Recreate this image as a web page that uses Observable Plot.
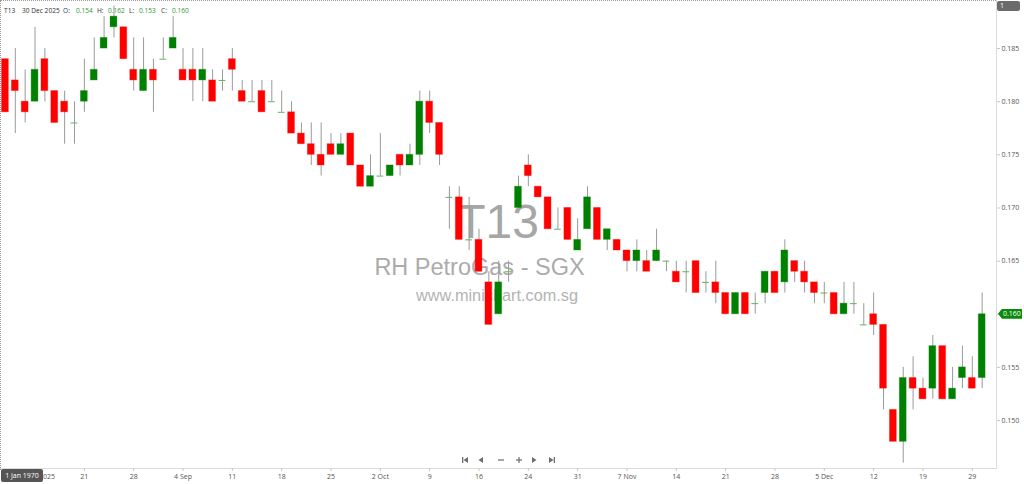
<!DOCTYPE html>
<html><head><meta charset="utf-8">
<script src="https://cdn.jsdelivr.net/npm/d3@7"></script>
<script src="https://cdn.jsdelivr.net/npm/@observablehq/plot@0.6"></script>
<style>
body{margin:0;background:#fff;font-family:"Open Sans",sans-serif;}
#wrap{position:relative;width:1024px;height:484px;overflow:hidden;background:#fff;}
#wrap svg.chart{position:absolute;left:0;top:0;z-index:1;background:transparent;}
.ov{position:absolute;font-size:7px;line-height:9px;white-space:nowrap;}
.hd{font-size:6.6px;}
</style></head><body><div id="wrap"></div>
<script>
const symbol = "T13";
const dates = [
"2025-08-11","2025-08-12","2025-08-13","2025-08-14","2025-08-15",
"2025-08-18","2025-08-19","2025-08-20","2025-08-21","2025-08-22",
"2025-08-25","2025-08-26","2025-08-27","2025-08-28","2025-08-29",
"2025-09-01","2025-09-02","2025-09-03","2025-09-04","2025-09-05",
"2025-09-08","2025-09-09","2025-09-10","2025-09-11","2025-09-12",
"2025-09-15","2025-09-16","2025-09-17","2025-09-18","2025-09-19",
"2025-09-22","2025-09-23","2025-09-24","2025-09-25","2025-09-26",
"2025-09-29","2025-09-30","2025-10-01","2025-10-02","2025-10-03",
"2025-10-06","2025-10-07","2025-10-08","2025-10-09","2025-10-10",
"2025-10-13","2025-10-14","2025-10-15","2025-10-16","2025-10-17",
"2025-10-21","2025-10-22","2025-10-23","2025-10-24",
"2025-10-27","2025-10-28","2025-10-29","2025-10-30","2025-10-31",
"2025-11-03","2025-11-04","2025-11-05","2025-11-06","2025-11-07",
"2025-11-10","2025-11-11","2025-11-12","2025-11-13","2025-11-14",
"2025-11-17","2025-11-18","2025-11-19","2025-11-20","2025-11-21",
"2025-11-24","2025-11-25","2025-11-26","2025-11-27","2025-11-28",
"2025-12-01","2025-12-02","2025-12-03","2025-12-04","2025-12-05",
"2025-12-08","2025-12-09","2025-12-10","2025-12-11","2025-12-12",
"2025-12-15","2025-12-16","2025-12-17","2025-12-18","2025-12-19",
"2025-12-22","2025-12-23","2025-12-24","2025-12-26",
"2025-12-29","2025-12-30"];
const open = [
0.184,0.182,0.180,0.180,0.184, 0.181,0.180,0.178,0.180,0.182,
0.185,0.187,0.187,0.183,0.181, 0.183,0.184,0.185,0.183,0.183,
0.182,0.182,0.182,0.184,0.181, 0.180,0.181,0.180,0.179,0.179,
0.177,0.176,0.175,0.176,0.175, 0.177,0.174,0.172,0.173,0.173,
0.175,0.174,0.175,0.180,0.178, 0.171,0.171,0.167,0.167,0.163,
0.160,0.164,0.170,0.174, 0.172,0.171,0.168,0.170,0.166,
0.168,0.170,0.167,0.167,0.166, 0.165,0.165,0.165,0.165,0.164,
0.164,0.165,0.163,0.163,0.162, 0.160,0.162,0.161,0.162,0.164,
0.163,0.165,0.164,0.163,0.162, 0.162,0.160,0.161,0.159,0.160,
0.159,0.151,0.148,0.154,0.153, 0.153,0.157,0.152,0.154, 0.154,0.154];
const high = [
0.184,0.185,0.183,0.187,0.185, 0.181,0.181,0.180,0.184,0.186,
0.188,0.189,0.187,0.186,0.186, 0.184,0.186,0.188,0.185,0.185,
0.185,0.183,0.183,0.185,0.182, 0.182,0.182,0.182,0.181,0.180,
0.178,0.178,0.178,0.177,0.177, 0.177,0.174,0.175,0.177,0.174,
0.175,0.176,0.181,0.181,0.178, 0.172,0.172,0.171,0.168,0.164,
0.165,0.165,0.173,0.175, 0.172,0.171,0.170,0.170,0.169,
0.172,0.170,0.168,0.167,0.166, 0.167,0.166,0.168,0.165,0.165,
0.165,0.165,0.164,0.165,0.162, 0.162,0.162,0.162,0.164,0.164,
0.167,0.165,0.165,0.163,0.163, 0.162,0.163,0.163,0.161,0.162,
0.159,0.151,0.155,0.156,0.154, 0.158,0.157,0.155,0.157, 0.156,0.162];
const low = [
0.179,0.177,0.178,0.180,0.180, 0.178,0.176,0.176,0.179,0.182,
0.185,0.186,0.184,0.181,0.181, 0.179,0.184,0.185,0.182,0.180,
0.180,0.180,0.181,0.181,0.180, 0.180,0.179,0.180,0.179,0.177,
0.176,0.174,0.173,0.175,0.175, 0.174,0.172,0.172,0.173,0.173,
0.173,0.174,0.174,0.177,0.174, 0.168,0.167,0.166,0.164,0.159,
0.160,0.163,0.170,0.172, 0.171,0.168,0.168,0.167,0.166,
0.168,0.167,0.166,0.166,0.164, 0.164,0.164,0.165,0.164,0.163,
0.162,0.162,0.162,0.161,0.160, 0.160,0.160,0.160,0.161,0.162,
0.162,0.163,0.162,0.161,0.161, 0.160,0.160,0.160,0.159,0.158,
0.151,0.148,0.146,0.151,0.152, 0.152,0.152,0.152,0.153, 0.153,0.153];
const close = [
0.179,0.181,0.179,0.183,0.181, 0.178,0.179,0.178,0.181,0.183,
0.186,0.188,0.184,0.182,0.183, 0.182,0.184,0.186,0.182,0.182,
0.183,0.180,0.182,0.183,0.180, 0.180,0.179,0.180,0.179,0.177,
0.176,0.175,0.174,0.175,0.176, 0.174,0.172,0.173,0.173,0.174,
0.174,0.175,0.180,0.178,0.175, 0.171,0.167,0.167,0.164,0.159,
0.163,0.164,0.172,0.173, 0.171,0.168,0.168,0.167,0.167,
0.171,0.167,0.168,0.166,0.165, 0.166,0.164,0.166,0.165,0.163,
0.164,0.162,0.163,0.162,0.160, 0.162,0.160,0.161,0.164,0.162,
0.166,0.164,0.163,0.162,0.162, 0.160,0.161,0.161,0.159,0.159,
0.153,0.148,0.154,0.153,0.152, 0.157,0.152,0.153,0.155, 0.153,0.160];
const tickDates = ["2025-08-14","2025-08-21","2025-08-28","2025-09-04","2025-09-11","2025-09-18","2025-09-25","2025-10-02","2025-10-09","2025-10-16","2025-10-24","2025-10-31","2025-11-07","2025-11-14","2025-11-21","2025-11-28","2025-12-05","2025-12-12","2025-12-19","2025-12-29"];
const tickLabels = ["14 Aug 2025","21","28","4 Sep","11","18","25","2 Oct","9","16","24","31","7 Nov","14","21","28","5 Dec","12","19","29"];
const yTicks = [0.150,0.155,0.160,0.165,0.170,0.175,0.180,0.185];
const watermark = ["T13","RH PetroGas - SGX","www.minichart.com.sg"];

const data = dates.map((d,i)=>({date:d,o:open[i],h:high[i],l:low[i],c:close[i]}));
const bodies = data.filter(d=>d.o!==d.c);
const dojis = data.filter(d=>d.o===d.c);
const labelMap = new Map(tickDates.map((d,i)=>[d,tickLabels[i]]));
const GREEN="#008000", RED="#ff0000";

const plot = Plot.plot({
  width:1024, height:484,
  marginLeft:0, marginRight:28, marginTop:0, marginBottom:16,
  style:{background:"transparent", fontFamily:"Open Sans", fontSize:"7px", color:"#555", overflow:"visible"},
  x:{type:"band", domain:dates, range:[0,986.6], paddingInner:0.31, paddingOuter:0.155},
  y:{domain:[0.14549,0.18952]},
  color:{type:"identity"},
  marks:[
    Plot.text([watermark[0]],{text:d=>d, frameAnchor:"top-left", dx:497, dy:203.6, textAnchor:"middle", fontSize:48, fontFamily:"Liberation Sans", fill:"#a6a6a6"}),
    Plot.text([watermark[1]],{text:d=>d, frameAnchor:"top-left", dx:479, dy:258.3, textAnchor:"middle", fontSize:23.5, fontFamily:"Liberation Sans", fill:"#ababab"}),
    Plot.text([watermark[2]],{text:d=>d, frameAnchor:"top-left", dx:496.5, dy:288.8, textAnchor:"middle", fontSize:16.3, fontFamily:"Liberation Sans", fill:"#b3b3b3"}),
    Plot.frame({anchor:"bottom", stroke:"#dcdcdc"}),
    Plot.frame({anchor:"right", stroke:"#dcdcdc"}),
    Plot.axisX({ticks:tickDates, tickFormat:d=>labelMap.get(d), tickSize:3, tickPadding:3, stroke:"#c8c8c8", fill:"#555", label:null}),
    Plot.axisY({anchor:"right", ticks:yTicks, tickFormat:d3.format(".3f"), tickSize:3, tickPadding:2, stroke:"#c8c8c8", fill:"#555", label:null}),
    Plot.ruleX(data,{x:"date", y1:"l", y2:"h", stroke:"#9a9a9a", strokeWidth:1}),
    Plot.barY(bodies,{x:"date", y1:"o", y2:"c", fill:d=>d.c>d.o?GREEN:RED, stroke:d=>d.c>d.o?GREEN:RED, strokeOpacity:0.35, strokeWidth:1}),
    Plot.tickY(dojis,{x:"date", y:"o", stroke:"#5fb35f", strokeWidth:1})
  ]
});
plot.classList.add("chart");
const wrap = document.getElementById("wrap");

// header (behind chart so wicks cross it)
const last = data[data.length-1];
const fmtDate = d3.utcFormat("%-d %b %Y");
const hdr = [
  [4, symbol, "#333"], [22, fmtDate(new Date(last.date)), "#333"],
  [63, "O:", "#333"], [76, last.o.toFixed(3), "#2e9a2e"],
  [97, "H:", "#333"], [108, last.h.toFixed(3), "#2e9a2e"],
  [129, "L:", "#333"], [139, last.l.toFixed(3), "#2e9a2e"],
  [161, "C:", "#333"], [172, last.c.toFixed(3), "#2e9a2e"]
];
for (const [x,t,c] of hdr){
  const s=document.createElement("div"); s.className="ov hd";
  s.style.cssText=`left:${x}px;top:6px;color:${c};z-index:0;`; s.textContent=t; wrap.appendChild(s);
}
wrap.appendChild(plot);

function add(html, css){const d=document.createElement("div"); d.className="ov"; d.style.cssText=css; d.innerHTML=html; wrap.appendChild(d); return d;}
// crosshair dotted lines
add("", "left:0;top:0;width:996px;height:0;border-top:1px dotted #9a9a9a;z-index:2;");
add("", "left:0;top:0;width:0;height:470px;border-left:1px dotted #9a9a9a;z-index:2;");
// top-right badge
add("1", "left:997px;top:1px;width:23px;height:10px;line-height:10px;background:#6b6b6b;color:#fff;border-radius:2px;padding-left:3px;box-sizing:border-box;z-index:3;");
// bottom-left date badge
add("1 Jan 1970", "left:1px;top:469px;width:42px;height:13px;line-height:13px;background:#555;color:#fff;border-radius:2px;text-align:center;z-index:3;");
// last price badge
const yLast = plot.scale("y").apply(last.c);
add(last.c.toFixed(3), `left:998px;top:${yLast-5}px;width:24px;height:10px;line-height:10px;background:#0a8a0a;color:#fff;padding-left:5px;box-sizing:border-box;clip-path:polygon(0 50%,4px 0,100% 0,100% 100%,4px 100%);z-index:3;`);
// navigation controls
add(`<svg width="100" height="10" viewBox="0 0 100 10">
<g fill="#6e6e6e" stroke="none">
<rect x="2" y="2" width="1.3" height="6"/><path d="M8 2 L3.5 5 L8 8Z"/>
<path d="M23 2 L18.5 5 L23 8Z"/>
<rect x="38" y="4.4" width="6" height="1.2"/>
<rect x="56" y="4.4" width="6" height="1.2"/><rect x="58.4" y="2" width="1.2" height="6"/>
<path d="M72 2 L76.5 5 L72 8Z"/>
<path d="M89 2 L93.5 5 L89 8Z"/><rect x="93.7" y="2" width="1.3" height="6"/>
</g></svg>`, "left:460px;top:455px;z-index:2;");
</script></body></html>
